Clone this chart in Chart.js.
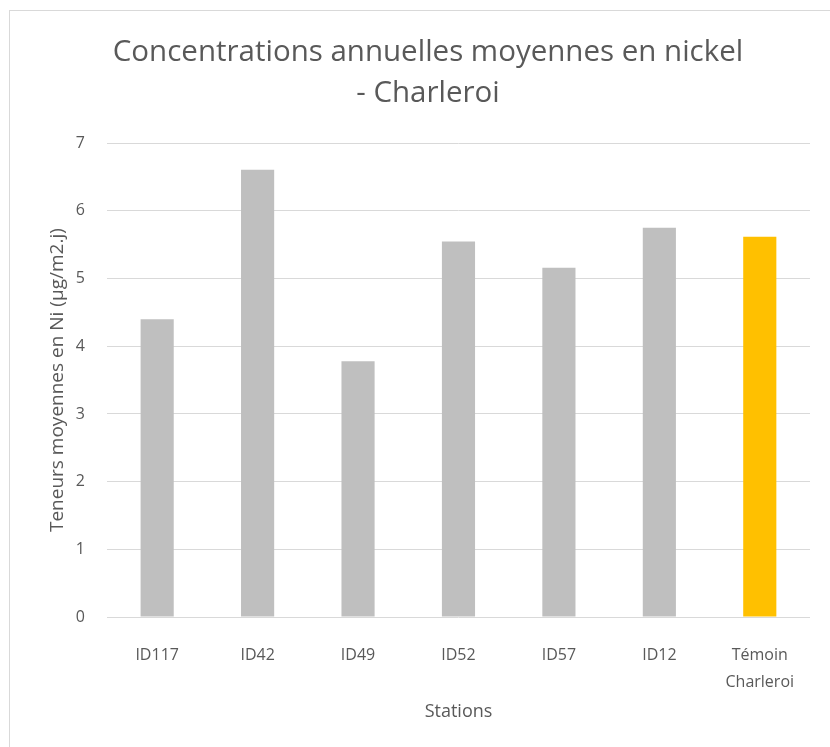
<!DOCTYPE html>
<html>
<head>
<meta charset="utf-8">
<script src="https://cdn.jsdelivr.net/npm/chart.js@4.4.0/dist/chart.umd.min.js"></script>
<style>
  html, body { margin: 0; padding: 0; background: #fff; }
  #frame {
    position: absolute; left: 9px; top: 10px;
    width: 830px; height: 745px;
    border: 1px solid #d9d9d9; box-sizing: border-box;
  }
  #wrap { position: absolute; left: 0; top: 0; width: 830px; height: 747px; }
</style>
</head>
<body>
<div id="frame"></div>
<div id="wrap"><canvas id="nickelChart"></canvas></div>
<script>
const stations = ["ID117", "ID42", "ID49", "ID52", "ID57", "ID12", ["Témoin", "Charleroi"]];
const teneurs = [4.40, 6.61, 3.78, 5.55, 5.16, 5.75, 5.62];
const barColors = ["#bfbfbf", "#bfbfbf", "#bfbfbf", "#bfbfbf", "#bfbfbf", "#bfbfbf", "#ffc000"];
const yTicks = [0, 1, 2, 3, 4, 5, 6, 7];

const textColor = "#595959";
const fontFamily = "'Open Sans', 'Noto Sans', sans-serif";

document.addEventListener("DOMContentLoaded", function () {
  const ctx = document.getElementById("nickelChart");
  new Chart(ctx, {
    type: "bar",
    data: {
      labels: stations,
      datasets: [
        {
          label: "Teneurs moyennes",
          data: teneurs,
          backgroundColor: barColors,
          barPercentage: 0.33,
          categoryPercentage: 1.0,
        },
      ],
    },
    options: {
      responsive: true,
      maintainAspectRatio: false,
      animation: false,
      layout: {
        padding: { left: 46, right: 20, top: 33, bottom: 24 },
      },
      plugins: {
        legend: { display: false },
        tooltip: { enabled: false },
        title: {
          display: true,
          text: ["Concentrations annuelles moyennes en nickel", "- Charleroi"],
          color: textColor,
          font: { family: fontFamily, size: 29.5, weight: "normal", lineHeight: 1.36 },
          padding: { top: 0, bottom: 30 },
        },
      },
      scales: {
        y: {
          min: 0,
          max: 7,
          afterBuildTicks: function (axis) {
            axis.ticks = yTicks.map((v) => ({ value: v }));
          },
          border: { display: false },
          grid: { color: "#d9d9d9", lineWidth: 1, drawTicks: false },
          ticks: {
            color: textColor,
            padding: 22,
            font: { family: fontFamily, size: 16 },
          },
          title: {
            display: true,
            text: "Teneurs moyennes en Ni (µg/m2.j)",
            color: textColor,
            font: { family: fontFamily, size: 19 },
            padding: { top: 0, bottom: -15 },
          },
        },
        x: {
          border: { display: false },
          grid: { display: false, drawTicks: false },
          ticks: {
            color: textColor,
            padding: 25,
            maxRotation: 0,
            font: { family: fontFamily, size: 16, lineHeight: 1.7 },
          },
          title: {
            display: true,
            text: "Stations",
            color: textColor,
            font: { family: fontFamily, size: 18 },
            padding: { top: -20, bottom: 0 },
          },
        },
      },
    },
  });
});
</script>
</body>
</html>
